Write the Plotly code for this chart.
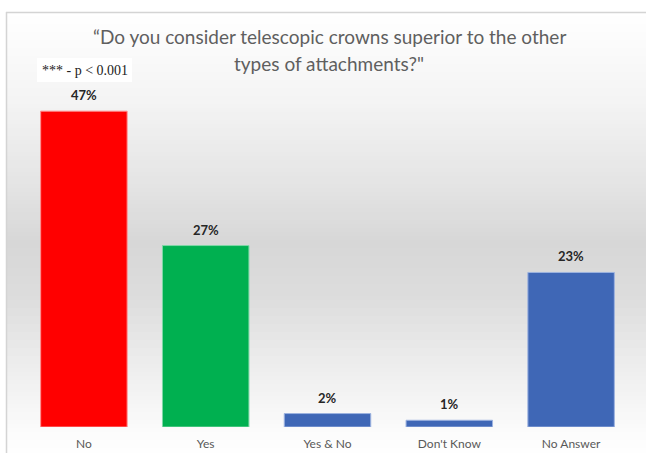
import numpy as np
import plotly.graph_objects as go

categories = ["No", "Yes", "Yes & No", "Don't Know", "No Answer"]
values = [47, 27, 2, 1, 23]
value_labels = ["47%", "27%", "2%", "1%", "23%"]
title_lines = ["\u201cDo you consider telescopic crowns superior to the other", "types of attachments?\""]
note_text = "*** - p < 0.001"

bar_colors = ["#FF0000", "#00B050", "#3F67B6", "#3F67B6", "#3F67B6"]
edge_colors = ["#FF9090", "#7FD8A7", "#9DB3E0", "#9DB3E0", "#9DB3E0"]

W, H = 646, 453
L, R, T, B = 23, 14, 91, 26
PW, PH = W - L - R, H - T - B


def px_x(px):
    return (px - L) / PW


def px_y(py):
    return (H - B - py) / PH


fig = go.Figure()
fig.add_trace(go.Bar(
    x=categories, y=values,
    marker=dict(color=bar_colors, line=dict(color=edge_colors, width=1)),
    width=0.71, hoverinfo="skip",
))

# value labels
for c, v, t in zip(categories, values, value_labels):
    fig.add_annotation(x=c, y=v, text="<b>%s</b>" % t, showarrow=False,
                       yanchor="bottom", yshift=6,
                       font=dict(family="Lato", size=13, color="#262626"))

# gradient background bands
stops_py = [12, 100, 180, 243, 300, 360, 430, 453]
stops_g = [255, 244, 229, 215, 221, 236, 251, 254]
shapes = []
edges = np.arange(12, 454, 4)
for y0, y1 in zip(edges[:-1], edges[1:]):
    g = int(round(np.interp((y0 + y1) / 2, stops_py, stops_g)))
    shapes.append(dict(type="rect", xref="paper", yref="paper",
                       x0=px_x(7), x1=px_x(647), y0=px_y(y1 + 0.5), y1=px_y(y0),
                       fillcolor="rgb(%d,%d,%d)" % (g, g, g), line=dict(width=0),
                       layer="below"))
# frame
shapes.append(dict(type="line", xref="paper", yref="paper", x0=px_x(6.5), x1=px_x(6.5),
                   y0=px_y(12), y1=px_y(460), line=dict(color="#D4D4D4", width=1.5), layer="below"))
shapes.append(dict(type="line", xref="paper", yref="paper", x0=px_x(6), x1=px_x(650),
                   y0=px_y(12.5), y1=px_y(12.5), line=dict(color="#D4D4D4", width=1.5), layer="below"))
# note box
shapes.append(dict(type="rect", xref="paper", yref="paper", x0=px_x(37), x1=px_x(132),
                   y0=px_y(82), y1=px_y(58), fillcolor="white", line=dict(width=0), layer="below"))

fig.add_annotation(xref="paper", yref="paper", x=px_x(85), y=px_y(70), text=note_text,
                   xanchor="center", yanchor="middle",
                   showarrow=False, font=dict(family="Liberation Serif", size=14, color="#222222"))

for i, line in enumerate(title_lines):
    fig.add_annotation(xref="paper", yref="paper", x=px_x(329), y=px_y(37 + 26 * i), text=line,
                       xanchor="center", yanchor="middle",
                       showarrow=False, font=dict(family="Lato", size=19, color="#5f5f5f"))

fig.update_layout(
    width=W, height=H, margin=dict(l=L, r=R, t=T, b=B, autoexpand=False),
    paper_bgcolor="white", plot_bgcolor="rgba(0,0,0,0)",
    shapes=shapes, showlegend=False, bargap=0.29,
    xaxis=dict(showline=False, showgrid=False, ticks="", zeroline=False,
               automargin=False, ticklabelstandoff=8,
               tickfont=dict(family="Lato", size=12, color="#595959")),
    yaxis=dict(range=[0, 50], visible=False, automargin=False),
)
fig.write_html("out.html")
